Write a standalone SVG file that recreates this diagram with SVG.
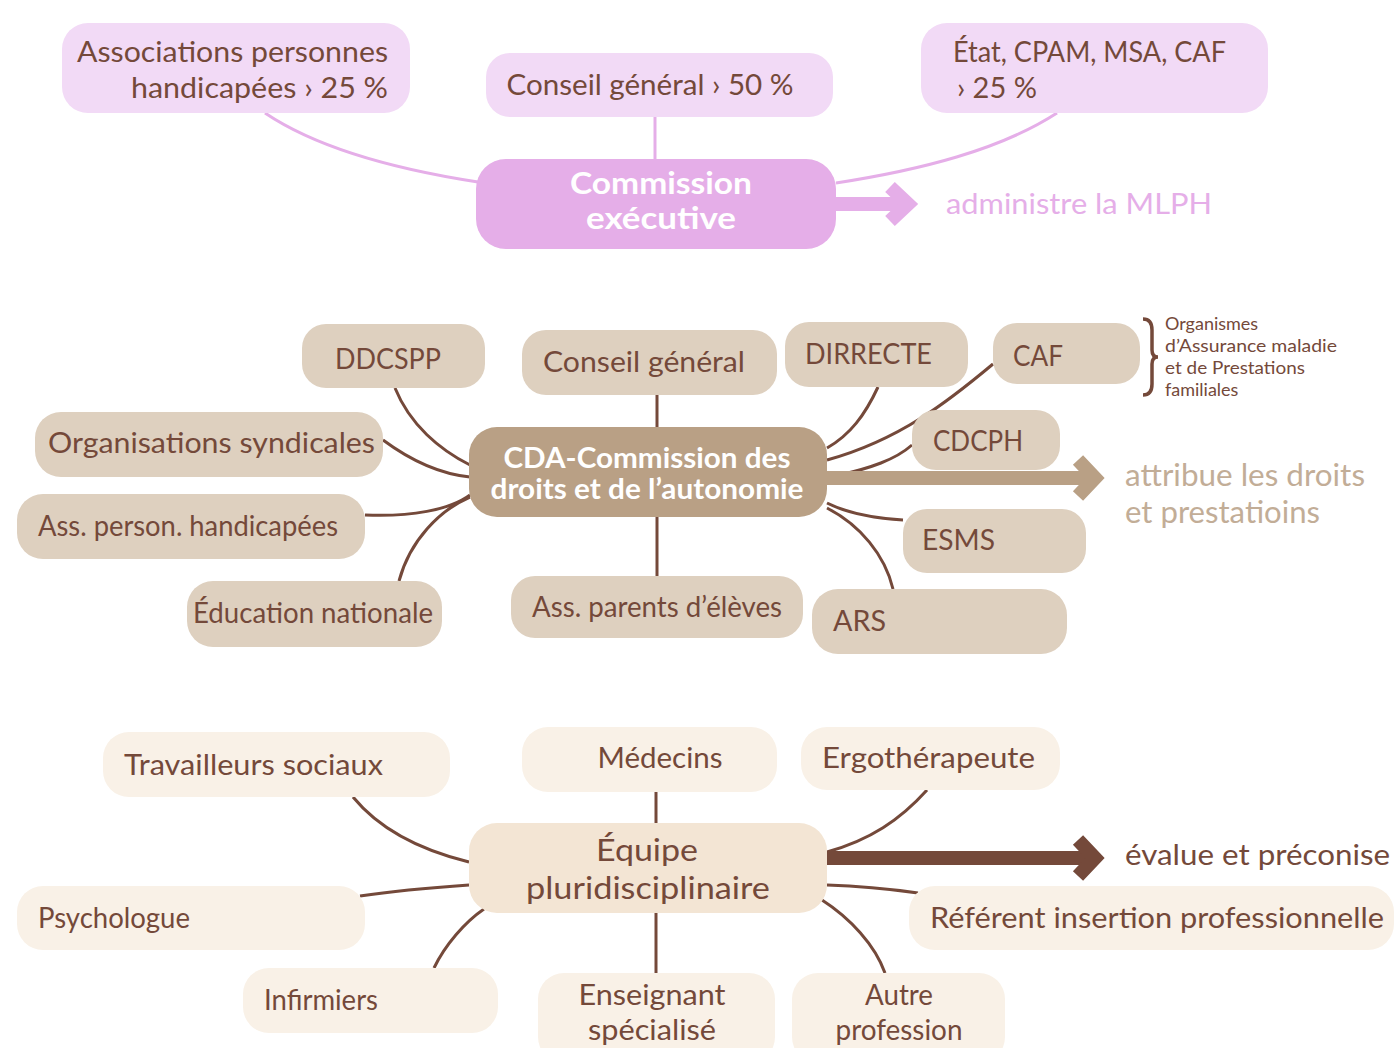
<svg xmlns="http://www.w3.org/2000/svg" width="1394" height="1048" viewBox="0 0 1394 1048">
<style>
text{font-family:Lato,"Open Sans","Liberation Sans",sans-serif;fill:#74493a;font-size:29px}
.pl{fill:#f2daf6}
.pc{fill:#e5aee8}
.ml{fill:#ded0bf}
.mc{fill:#b9a085}
.bl{fill:#f9f1e7}
.bc{fill:#f3e5d4}
.cp{fill:none;stroke:#e5aee8;stroke-width:3}
.cb{fill:none;stroke:#74493a;stroke-width:3}
.w{fill:#ffffff;font-weight:bold}
.mid{text-anchor:middle}
.end{text-anchor:end}
.small{font-size:18px}
</style>
<g id="connectors">
<path class="cp" d="M265,113 C320,150 400,170 478,182"/>
<path class="cp" d="M655,117 V159"/>
<path class="cp" d="M1057,113 C1000,150 920,170 836,183"/>
<path d="M836,204 H903" fill="none" stroke="#e5aee8" stroke-width="14"/>
<polyline points="890,187 908,204 890,221" fill="none" stroke="#e5aee8" stroke-width="14"/>
<path class="cb" d="M395,388 C410,425 440,450 470,465"/>
<path class="cb" d="M383,440 C410,460 440,474 470,477"/>
<path class="cb" d="M365,515 C410,517 450,510 470,495"/>
<path class="cb" d="M399,581 C410,540 440,510 470,497"/>
<path class="cb" d="M657,395 V427"/>
<path class="cb" d="M657,517 V576"/>
<path class="cb" d="M878,387 C865,415 850,435 827,448"/>
<path class="cb" d="M993,364 C950,400 900,440 827,460"/>
<path class="cb" d="M912,445 C895,460 870,468 840,475"/>
<path class="cb" d="M903,520 C870,518 845,512 827,503"/>
<path class="cb" d="M893,589 C885,555 860,525 827,508"/>
<path d="M827,478 H1090" fill="none" stroke="#b9a085" stroke-width="14"/>
<polyline points="1078,460 1095,478 1078,496" fill="none" stroke="#b9a085" stroke-width="14"/>
<path class="cb" d="M353,797 C380,830 420,850 469,862"/>
<path class="cb" d="M656,792 V823"/>
<path class="cb" d="M927,790 C900,820 870,840 827,852"/>
<path class="cb" d="M360,896 C400,890 440,887 469,885"/>
<path class="cb" d="M434,968 C445,945 465,922 484,909"/>
<path class="cb" d="M656,913 V973"/>
<path class="cb" d="M827,885 C860,886 890,889 918,893"/>
<path class="cb" d="M885,973 C875,945 850,918 822,900"/>
<path d="M827,858 H1090" fill="none" stroke="#74493a" stroke-width="14"/>
<polyline points="1078,840 1095,858 1078,876" fill="none" stroke="#74493a" stroke-width="14"/>
</g>
<g id="assoc"><rect class="pl" x="62" y="23" width="348" height="90" rx="26"/><text class="end" x="388" y="62" textLength="311" lengthAdjust="spacingAndGlyphs">Associations personnes</text><text class="end" x="388" y="98" textLength="257" lengthAdjust="spacingAndGlyphs">handicapées  › 25 %</text></g>
<g id="conseil-top"><rect class="pl" x="486" y="53" width="347" height="64" rx="24"/><text class="mid" x="650" y="95" textLength="287" lengthAdjust="spacingAndGlyphs">Conseil général › 50 %</text></g>
<g id="etat"><rect class="pl" x="921" y="23" width="347" height="90" rx="26"/><text x="953" y="62" textLength="273" lengthAdjust="spacingAndGlyphs">État, CPAM, MSA, CAF</text><text x="957" y="98">› 25 %</text></g>
<g id="commission"><rect class="pc" x="476" y="159" width="360" height="90" rx="30"/><text class="w mid" x="661" y="194" style="font-size:31px" textLength="182" lengthAdjust="spacingAndGlyphs">Commission</text><text class="w mid" x="661" y="229" style="font-size:31px" textLength="150" lengthAdjust="spacingAndGlyphs">exécutive</text></g>
<g id="mlph-label"><text x="946" y="214" style="fill:#e5aee8" textLength="266" lengthAdjust="spacingAndGlyphs">administre la MLPH</text></g>

<g id="ddcspp"><rect class="ml" x="302" y="324" width="183" height="64" rx="24"/><text class="mid" x="388" y="369" textLength="106" lengthAdjust="spacingAndGlyphs">DDCSPP</text></g>
<g id="conseil-mid"><rect class="ml" x="522" y="330" width="255" height="65" rx="24"/><text class="mid" x="644" y="372" textLength="202" lengthAdjust="spacingAndGlyphs">Conseil général</text></g>
<g id="dirrecte"><rect class="ml" x="785" y="322" width="183" height="65" rx="24"/><text x="805" y="364" textLength="127" lengthAdjust="spacingAndGlyphs">DIRRECTE</text></g>
<g id="caf"><rect class="ml" x="993" y="323" width="147" height="61" rx="24"/><text x="1013" y="366" textLength="50" lengthAdjust="spacingAndGlyphs">CAF</text></g>
<g id="organismes"><path d="M1143,319 Q1152,319 1152,330 V350 Q1152,357 1158,357 Q1152,357 1152,364 V384 Q1152,395 1143,395" fill="none" stroke="#74493a" stroke-width="3.5"/><text class="small" x="1165" y="330">Organismes</text><text class="small" x="1165" y="352" textLength="172" lengthAdjust="spacingAndGlyphs">d’Assurance maladie</text><text class="small" x="1165" y="374" textLength="140" lengthAdjust="spacingAndGlyphs">et de Prestations</text><text class="small" x="1165" y="396">familiales</text></g>
<g id="orgsynd"><rect class="ml" x="35" y="412" width="348" height="65" rx="26"/><text x="48" y="453" textLength="327" lengthAdjust="spacingAndGlyphs">Organisations syndicales</text></g>
<g id="assperson"><rect class="ml" x="17" y="494" width="348" height="65" rx="26"/><text x="38" y="536" textLength="300" lengthAdjust="spacingAndGlyphs">Ass. person. handicapées</text></g>
<g id="education"><rect class="ml" x="187" y="581" width="255" height="66" rx="26"/><text x="193" y="623" textLength="240" lengthAdjust="spacingAndGlyphs">Éducation nationale</text></g>
<g id="cda"><rect class="mc" x="469" y="427" width="358" height="90" rx="28"/><text class="w mid" x="647" y="468" style="font-size:28px" textLength="287" lengthAdjust="spacingAndGlyphs">CDA-Commission des</text><text class="w mid" x="647" y="499" style="font-size:28px" textLength="313" lengthAdjust="spacingAndGlyphs">droits et de l’autonomie</text></g>
<g id="cdcph"><rect class="ml" x="912" y="410" width="148" height="60" rx="24"/><text x="933" y="451" textLength="90" lengthAdjust="spacingAndGlyphs">CDCPH</text></g>
<g id="esms"><rect class="ml" x="903" y="509" width="183" height="64" rx="24"/><text x="922" y="550" textLength="73" lengthAdjust="spacingAndGlyphs">ESMS</text></g>
<g id="assparents"><rect class="ml" x="511" y="576" width="292" height="62" rx="24"/><text class="mid" x="657" y="617" textLength="250" lengthAdjust="spacingAndGlyphs">Ass. parents d’élèves</text></g>
<g id="ars"><rect class="ml" x="812" y="589" width="255" height="65" rx="26"/><text x="833" y="631" textLength="53" lengthAdjust="spacingAndGlyphs">ARS</text></g>
<g id="attribue-label"><text x="1125" y="486" style="fill:#c2ad97;font-size:30px" textLength="240" lengthAdjust="spacingAndGlyphs">attribue les droits</text><text x="1125" y="523" style="fill:#c2ad97;font-size:30px" textLength="195" lengthAdjust="spacingAndGlyphs">et prestatioins</text></g>

<g id="travailleurs"><rect class="bl" x="103" y="732" width="347" height="65" rx="26"/><text x="124" y="775" textLength="259" lengthAdjust="spacingAndGlyphs">Travailleurs sociaux</text></g>
<g id="medecins"><rect class="bl" x="522" y="727" width="255" height="65" rx="26"/><text class="mid" x="660" y="768" textLength="125" lengthAdjust="spacingAndGlyphs">Médecins</text></g>
<g id="ergo"><rect class="bl" x="801" y="727" width="259" height="63" rx="26"/><text x="822" y="768" textLength="213" lengthAdjust="spacingAndGlyphs">Ergothérapeute</text></g>
<g id="equipe"><rect class="bc" x="469" y="823" width="358" height="90" rx="28"/><text class="mid" x="647" y="861" style="font-size:30px" textLength="102" lengthAdjust="spacingAndGlyphs">Équipe</text><text class="mid" x="648" y="899" style="font-size:30px" textLength="244" lengthAdjust="spacingAndGlyphs">pluridisciplinaire</text></g>
<g id="psychologue"><rect class="bl" x="17" y="886" width="348" height="64" rx="26"/><text x="38" y="928" textLength="152" lengthAdjust="spacingAndGlyphs">Psychologue</text></g>
<g id="infirmiers"><rect class="bl" x="243" y="968" width="255" height="65" rx="26"/><text x="264" y="1010" textLength="114" lengthAdjust="spacingAndGlyphs">Infirmiers</text></g>
<g id="enseignant"><rect class="bl" x="538" y="973" width="237" height="90" rx="26"/><text class="mid" x="652" y="1005" textLength="147" lengthAdjust="spacingAndGlyphs">Enseignant</text><text class="mid" x="652" y="1040" textLength="128" lengthAdjust="spacingAndGlyphs">spécialisé</text></g>
<g id="autre"><rect class="bl" x="792" y="973" width="213" height="90" rx="26"/><text class="mid" x="899" y="1005" textLength="68" lengthAdjust="spacingAndGlyphs">Autre</text><text class="mid" x="899" y="1040" textLength="127" lengthAdjust="spacingAndGlyphs">profession</text></g>
<g id="referent"><rect class="bl" x="909" y="886" width="485" height="64" rx="26"/><text x="930" y="928" textLength="454" lengthAdjust="spacingAndGlyphs">Référent insertion professionnelle</text></g>
<g id="evalue-label"><text x="1125" y="865" textLength="265" lengthAdjust="spacingAndGlyphs">évalue et préconise</text></g>
</svg>
